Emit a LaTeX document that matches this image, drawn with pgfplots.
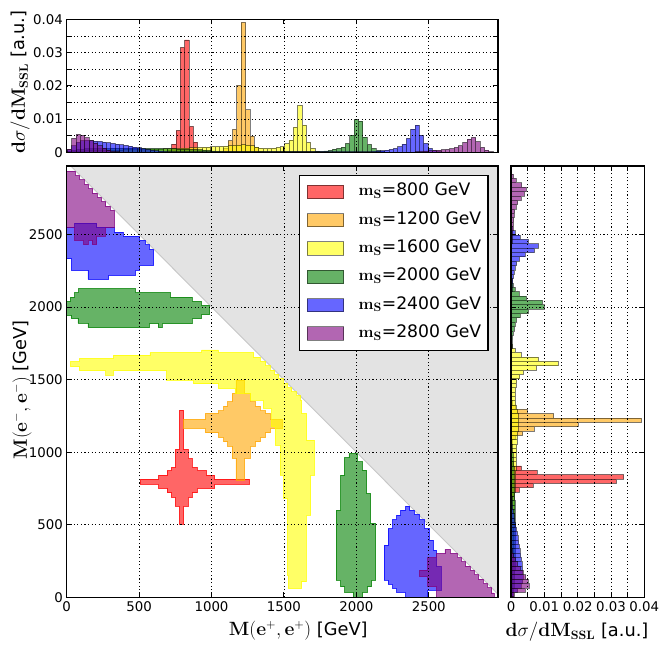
\documentclass[border=0pt]{standalone}
\usepackage[no-math]{fontspec}
\setmainfont{DejaVu Sans}
\usepackage{pgfplots}
\usepackage{pgfplotstable}
\pgfplotsset{compat=1.18}

\definecolor{mred}{rgb}{1,0,0}
\definecolor{morange}{rgb}{1,0.647,0}
\definecolor{myellow}{rgb}{1,1,0}
\definecolor{mgreen}{rgb}{0,0.5,0}
\definecolor{mblue}{rgb}{0,0,1}
\definecolor{mpurple}{rgb}{0.5,0,0.5}

% histogram tables: e = lower bin edge [GeV], v = height [a.u.]
\pgfplotstableread{
e v
695 0.0006
725 0.0025
755 0.0066
785 0.0316
815 0.0338
845 0.0078
875 0.0031
905 0.0007
}\tred
\pgfplotstableread{
e v
1055 0.0004
1085 0.0012
1115 0.0035
1145 0.0069
1175 0.0201
1205 0.0391
1235 0.0128
1265 0.0049
1295 0.0014
1325 0.0004
}\torange
\pgfplotstableread{
e v
5 0.0002
35 0.0003
65 0.0004
95 0.0004
125 0.0005
155 0.0005
185 0.0005
215 0.0006
245 0.0006
275 0.0006
305 0.0007
335 0.0007
365 0.0007
395 0.0008
425 0.0008
455 0.0008
485 0.0009
515 0.0009
545 0.0009
575 0.0010
605 0.0010
635 0.0010
665 0.0011
695 0.0011
725 0.0012
755 0.0012
785 0.0013
815 0.0013
845 0.0014
875 0.0015
905 0.0015
935 0.0016
965 0.0016
995 0.0017
1025 0.0017
1055 0.0018
1085 0.0019
1115 0.0020
1145 0.0021
1175 0.0022
1205 0.0023
1235 0.0022
1265 0.0020
1295 0.0016
1325 0.0013
1355 0.0012
1385 0.0012
1415 0.0013
1445 0.0015
1475 0.0017
1505 0.0026
1535 0.0037
1565 0.0076
1595 0.0141
1625 0.0082
1655 0.0030
1685 0.0012
1715 0.0004
1745 0.0001
}\tyellow
\pgfplotstableread{
e v
5 0.0003
35 0.0006
65 0.0009
95 0.0010
125 0.0011
155 0.0011
185 0.0012
215 0.0012
245 0.0012
275 0.0012
305 0.0013
335 0.0013
365 0.0013
395 0.0013
425 0.0013
455 0.0013
485 0.0013
515 0.0012
545 0.0012
575 0.0012
605 0.0012
635 0.0012
665 0.0011
695 0.0011
725 0.0011
755 0.0010
785 0.0010
815 0.0010
845 0.0009
875 0.0009
905 0.0008
935 0.0007
965 0.0006
995 0.0004
1025 0.0003
1055 0.0002
1085 0.0002
1115 0.0002
1145 0.0002
1175 0.0002
1205 0.0002
1235 0.0002
1265 0.0002
1295 0.0002
1325 0.0002
1355 0.0002
1385 0.0002
1415 0.0002
1445 0.0002
1475 0.0002
1505 0.0002
1535 0.0002
1565 0.0002
1595 0.0002
1625 0.0002
1655 0.0002
1685 0.0002
1715 0.0003
1745 0.0003
1775 0.0004
1805 0.0006
1835 0.0010
1865 0.0012
1895 0.0016
1925 0.0027
1955 0.0052
1985 0.0099
2015 0.0094
2045 0.0046
2075 0.0024
2105 0.0012
2135 0.0006
2165 0.0003
}\tgreen
\pgfplotstableread{
e v
5 0.0008
35 0.0020
65 0.0030
95 0.0035
125 0.0036
155 0.0035
185 0.0034
215 0.0033
245 0.0031
275 0.0029
305 0.0027
335 0.0025
365 0.0023
395 0.0021
425 0.0019
455 0.0016
485 0.0014
515 0.0011
545 0.0009
575 0.0007
605 0.0005
635 0.0004
665 0.0003
695 0.0002
725 0.0002
755 0.0002
785 0.0002
815 0.0002
845 0.0002
875 0.0002
905 0.0002
935 0.0002
965 0.0002
995 0.0002
1025 0.0002
1055 0.0002
1085 0.0002
1115 0.0002
1145 0.0002
1175 0.0002
1205 0.0002
1235 0.0002
1265 0.0002
1295 0.0002
1325 0.0002
1355 0.0002
1385 0.0002
1415 0.0002
1445 0.0002
1475 0.0002
1505 0.0002
1535 0.0002
1565 0.0002
1595 0.0002
1625 0.0002
1655 0.0002
1685 0.0002
1715 0.0002
1745 0.0002
1775 0.0002
1805 0.0002
1835 0.0002
1865 0.0002
1895 0.0002
1925 0.0002
1955 0.0002
1985 0.0002
2015 0.0002
2045 0.0002
2075 0.0002
2105 0.0003
2135 0.0004
2165 0.0005
2195 0.0007
2225 0.0009
2255 0.0012
2285 0.0017
2315 0.0025
2345 0.0042
2375 0.0070
2405 0.0082
2435 0.0052
2465 0.0027
2495 0.0012
2525 0.0005
2555 0.0002
}\tblue
\pgfplotstableread{
e v
5 0.0010
35 0.0042
65 0.0054
95 0.0051
125 0.0044
155 0.0036
185 0.0028
215 0.0020
245 0.0013
275 0.0007
305 0.0003
335 0.0002
365 0.0001
395 0.0001
2405 0.0002
2435 0.0003
2465 0.0004
2495 0.0005
2525 0.0006
2555 0.0007
2585 0.0008
2615 0.0009
2645 0.0011
2675 0.0015
2705 0.0020
2735 0.0030
2765 0.0040
2795 0.0045
2825 0.0032
2855 0.0015
2885 0.0007
2915 0.0002
}\tpurple

\pgfplotsset{
  common/.style={scale only axis, axis on top, grid=major,
    scaled x ticks=false, scaled y ticks=false,
    grid style={black, line width=0.5pt, dash pattern=on 1pt off 2.2pt},
    axis line style={line width=1pt},
    tick style={black, line width=0.8pt}, major tick length=4.5pt, tick align=inside,
    tick label style={font=\fontsize{12}{14}\selectfont},
    label style={font=\fontsize{16}{19}\selectfont}},
  hbar/.style={fill=#1, fill opacity=0.6, draw=black, draw opacity=0.5, line width=0.7pt},
  region/.style={fill=#1, fill opacity=0.6, draw=#1, draw opacity=0.75, line width=0.8pt, forget plot},
}

\begin{document}
\begin{tikzpicture}[x=1pt,y=1pt]
\useasboundingbox (0,0) rectangle (597.6,597.6);

% ---------------- main 2D panel ----------------
\begin{axis}[common, at={(60pt,60pt)}, anchor=south west,
  width=388.2pt, height=388.2pt,
  xmin=0, xmax=2978, ymin=0, ymax=2971,
  xtick={0,500,1000,1500,2000,2500}, xticklabels={0,500,1000,1500,2000,2500},
  ytick={0,500,1000,1500,2000,2500}, yticklabels={0,500,1000,1500,2000,2500},
  xlabel={$\mathbf{M(e^{+},e^{+})}$ [GeV]},
  ylabel={$\mathbf{M(e^{-},e^{-})}$ [GeV]},
  xlabel style={at={(axis description cs:0.537,-0.0769)}, anchor=center},
  ylabel style={at={(axis description cs:-0.1036,0.4807)}, anchor=center},
  legend style={at={(0.978,0.98)}, anchor=north east, draw=black, line width=1pt,
    fill=white, font=\fontsize{15.5}{18}\selectfont, inner xsep=6pt, inner ysep=7pt,
    row sep=9.5pt, nodes={inner sep=0pt, text height=11.5pt, text depth=4.5pt},
    /tikz/every odd column/.append style={column sep=13pt}},
  legend cell align=left,
  legend image code/.code={\draw[#1] (0pt,-6pt) rectangle (33pt,6pt);},
]
\addplot[fill=black!11, draw=black!22, line width=0.8pt, forget plot]
  coordinates {(0,3000) (3000,0) (3000,3000)} -- cycle;

% m_S = 800
\addplot[region=mred] coordinates {
(778,1290) (808,1290) (808,1019) (838,1019) (838,956) (865,956) (865,895) (900,895)
(900,872) (964,872) (964,842) (1022,842) (1022,815) (1261,815) (1261,780) (1022,780)
(1022,750) (900,750) (900,720) (865,720) (865,688) (838,688) (838,628) (808,628)
(808,505) (778,505) (778,628) (750,628) (750,688) (723,688) (723,720) (693,720)
(693,750) (635,750) (635,780) (509,780) (509,815) (635,815) (635,842) (693,842)
(693,872) (723,872) (723,895) (750,895) (750,1019) (778,1019)} -- cycle;

% m_S = 1200
\addplot[region=morange] coordinates {
(1169,1497) (1229,1497) (1229,1405) (1268,1405) (1268,1347) (1303,1347) (1303,1317)
(1337,1317) (1337,1285) (1372,1285) (1372,1267) (1406,1267) (1406,1225) (1487,1225)
(1487,1163) (1406,1163) (1406,1133) (1372,1133) (1372,1102) (1337,1102) (1337,1071)
(1303,1071) (1303,1042) (1268,1042) (1268,958) (1229,958) (1229,808) (1169,808)
(1169,958) (1142,958) (1142,1042) (1112,1042) (1112,1071) (1084,1071) (1084,1102)
(1049,1102) (1049,1133) (957,1133) (957,1163) (808,1163) (808,1225) (957,1225)
(957,1267) (1049,1267) (1049,1285) (1084,1285) (1084,1317) (1112,1317) (1112,1347)
(1142,1347) (1142,1405) (1169,1405)} -- cycle;

% m_S = 1600
\addplot[region=myellow] coordinates {
(28,1589) (28,1623) (87,1623) (87,1646) (322,1646) (322,1669) (575,1669) (575,1685)
(932,1685) (932,1704) (1047,1704) (1047,1685) (1290,1685) (1290,1655) (1335,1655)
(1335,1625) (1375,1625) (1375,1595) (1405,1595) (1405,1565) (1435,1565) (1435,1535)
(1465,1535) (1465,1505) (1495,1505) (1495,1475) (1525,1475) (1525,1445) (1555,1445)
(1555,1415) (1585,1415) (1585,1390) (1616,1390) (1616,1358) (1623,1358) (1623,1267)
(1657,1267) (1657,1083) (1710,1083) (1710,842) (1685,842) (1685,566) (1653,566)
(1653,107) (1623,107) (1623,62) (1530,62) (1530,154) (1524,154) (1524,682) (1496,682)
(1496,843) (1473,843) (1473,1049) (1441,1049) (1441,1176) (1415,1176) (1415,1302)
(1358,1302) (1358,1359) (1266,1359) (1266,1405) (1162,1405) (1162,1440) (1047,1440)
(1047,1470) (875,1470) (875,1497) (690,1497) (690,1561) (322,1561) (322,1531)
(271,1531) (271,1561) (87,1561) (87,1589)} -- cycle;

% m_S = 2000
\addplot[region=mgreen] coordinates {
(1978,0) (1978,34) (1920,34) (1920,72) (1892,72) (1892,119) (1860,119) (1860,600)
(1892,600) (1892,841) (1917,841) (1917,963) (1949,963) (1949,991) (2007,991)
(2007,933) (2041,933) (2041,876) (2071,876) (2071,716) (2099,716) (2099,509)
(2133,509) (2133,119) (2105,119) (2105,72) (2076,72) (2076,34) (2043,34) (2043,0)} -- cycle;
\addplot[region=mgreen] coordinates {
(0,1942) (0,2038) (25,2038) (25,2068) (55,2068) (55,2098) (83,2098) (83,2126)
(474,2126) (474,2098) (716,2098) (716,2068) (865,2068) (865,2038) (930,2038)
(930,2011) (987,2011) (987,1947) (930,1947) (930,1919) (865,1919) (865,1885)
(658,1885) (658,1857) (631,1857) (631,1885) (571,1885) (571,1857) (147,1857)
(147,1889) (78,1889) (78,1919) (30,1919) (30,1942)} -- cycle;

% m_S = 2400
\addplot[region=mblue] coordinates {
(2340,0) (2340,34) (2278,34) (2278,61) (2251,61) (2251,90) (2220,90) (2220,119)
(2191,119) (2191,360) (2220,360) (2220,474) (2251,474) (2251,536) (2278,536)
(2278,566) (2306,566) (2306,601) (2340,601) (2340,628) (2370,628) (2370,601)
(2401,601) (2401,571) (2435,571) (2435,536) (2469,536) (2469,474) (2504,474)
(2504,394) (2531,394) (2531,325) (2555,325) (2555,211) (2585,211) (2585,50)
(2492,50) (2492,0)} -- cycle;
\addplot[region=mblue] coordinates {
(0,2332) (0,2550) (55,2550) (55,2578) (209,2578) (209,2550) (330,2550) (330,2516)
(389,2516) (389,2488) (502,2488) (502,2459) (543,2459) (543,2429) (571,2429)
(571,2397) (601,2397) (601,2286) (502,2286) (502,2252) (474,2252) (474,2218)
(290,2218) (290,2190) (147,2190) (147,2252) (32,2252) (32,2332)} -- cycle;

% m_S = 2800
\addplot[region=mpurple] coordinates {
(2555,0) (2555,73) (2493,73) (2493,142) (2436,142) (2436,188) (2493,188) (2493,273)
(2555,273) (2555,303) (2612,303) (2612,330) (2647,330) (2647,303) (2695,303)
(2695,272) (2725,272) (2725,245) (2755,245) (2755,215) (2785,215) (2785,185)
(2815,185) (2815,155) (2845,155) (2845,125) (2875,125) (2875,95) (2905,95)
(2905,65) (2935,65) (2935,30) (2950,30) (2950,0)} -- cycle;
\addplot[region=mpurple] coordinates {
(0,2546) (0,2935) (60,2935) (60,2905) (90,2905) (90,2875) (120,2875) (120,2845)
(150,2845) (150,2815) (180,2815) (180,2785) (210,2785) (210,2755) (240,2755)
(240,2725) (270,2725) (270,2695) (300,2695) (300,2665) (330,2665) (330,2546)
(267,2546) (267,2488) (209,2488) (209,2429) (175,2429) (175,2459) (147,2459)
(147,2429) (117,2429) (117,2459) (55,2459) (55,2546)} -- cycle;

\addlegendimage{fill=mred, fill opacity=0.6, draw=black, draw opacity=0.5, line width=0.8pt}
\addlegendentry{$\mathbf{m_S}$=800 GeV}
\addlegendimage{fill=morange, fill opacity=0.6, draw=black, draw opacity=0.5, line width=0.8pt}
\addlegendentry{$\mathbf{m_S}$=1200 GeV}
\addlegendimage{fill=myellow, fill opacity=0.6, draw=black, draw opacity=0.5, line width=0.8pt}
\addlegendentry{$\mathbf{m_S}$=1600 GeV}
\addlegendimage{fill=mgreen, fill opacity=0.6, draw=black, draw opacity=0.5, line width=0.8pt}
\addlegendentry{$\mathbf{m_S}$=2000 GeV}
\addlegendimage{fill=mblue, fill opacity=0.6, draw=black, draw opacity=0.5, line width=0.8pt}
\addlegendentry{$\mathbf{m_S}$=2400 GeV}
\addlegendimage{fill=mpurple, fill opacity=0.6, draw=black, draw opacity=0.5, line width=0.8pt}
\addlegendentry{$\mathbf{m_S}$=2800 GeV}
\end{axis}

% ---------------- top histogram ----------------
\begin{axis}[common, at={(60pt,460.5pt)}, anchor=south west,
  width=388.2pt, height=119.7pt,
  xmin=0, xmax=2978, ymin=0, ymax=0.04,
  xtick={0,500,1000,1500,2000,2500}, xticklabels={{},{},{},{},{},{}},
  ytick={0,0.005,0.01,0.015,0.02,0.025,0.03,0.035,0.04},
  yticklabels={0,,0.01,,0.02,,0.03,,0.04},
  ylabel={$\mathbf{d}\sigma\mathbf{/dM_{SSL}}$ [a.u.]},
  ylabel style={at={(axis description cs:-0.108,0.529)}, anchor=center},
]
\addplot[ybar, bar width=30, bar shift=0pt, hbar=mred] table[x expr=\thisrow{e}+15, y=v]{\tred};
\addplot[ybar, bar width=30, bar shift=0pt, hbar=morange] table[x expr=\thisrow{e}+15, y=v]{\torange};
\addplot[ybar, bar width=30, bar shift=0pt, hbar=myellow] table[x expr=\thisrow{e}+15, y=v]{\tyellow};
\addplot[ybar, bar width=30, bar shift=0pt, hbar=mgreen] table[x expr=\thisrow{e}+15, y=v]{\tgreen};
\addplot[ybar, bar width=30, bar shift=0pt, hbar=mblue] table[x expr=\thisrow{e}+15, y=v]{\tblue};
\addplot[ybar, bar width=30, bar shift=0pt, hbar=mpurple] table[x expr=\thisrow{e}+15, y=v]{\tpurple};
\end{axis}

% ---------------- right histogram ----------------
\begin{axis}[common, at={(459.9pt,60pt)}, anchor=south west,
  width=120pt, height=388.2pt,
  ymin=0, ymax=2971, xmin=0, xmax=0.04,
  ytick={0,500,1000,1500,2000,2500}, yticklabels={{},{},{},{},{},{}},
  xtick={0,0.005,0.01,0.015,0.02,0.025,0.03,0.035,0.04},
  xticklabels={0,,0.01,,0.02,,0.03,,0.04},
  xlabel={$\mathbf{d}\sigma\mathbf{/dM_{SSL}}$ [a.u.]},
  xlabel style={at={(axis description cs:0.495,-0.0804)}, anchor=center},
]
\addplot[xbar, bar width=30, bar shift=0pt, hbar=mred] table[y expr=\thisrow{e}+15, x=v]{\tred};
\addplot[xbar, bar width=30, bar shift=0pt, hbar=morange] table[y expr=\thisrow{e}+15, x=v]{\torange};
\addplot[xbar, bar width=30, bar shift=0pt, hbar=myellow] table[y expr=\thisrow{e}+15, x=v]{\tyellow};
\addplot[xbar, bar width=30, bar shift=0pt, hbar=mgreen] table[y expr=\thisrow{e}+15, x=v]{\tgreen};
\addplot[xbar, bar width=30, bar shift=0pt, hbar=mblue] table[y expr=\thisrow{e}+15, x=v]{\tblue};
\addplot[xbar, bar width=30, bar shift=0pt, hbar=mpurple] table[y expr=\thisrow{e}+15, x=v]{\tpurple};
\end{axis}
\end{tikzpicture}
\end{document}
